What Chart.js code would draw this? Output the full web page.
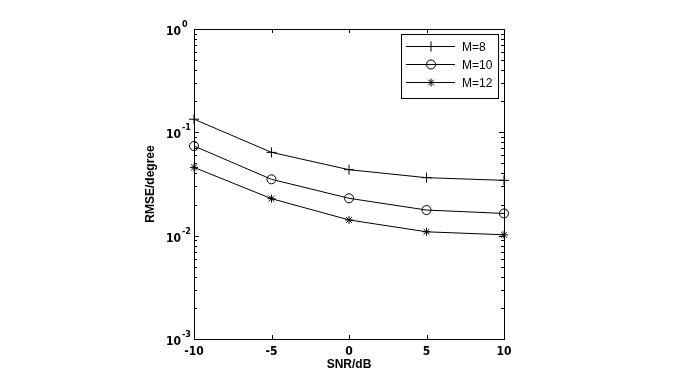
<!DOCTYPE html>
<html>
<head>
<meta charset="utf-8">
<script src="https://cdn.jsdelivr.net/npm/chart.js@4/dist/chart.umd.min.js"></script>
<style>
  html, body { margin: 0; padding: 0; background: #fff; }
  #wrap { width: 676px; height: 382px; }
</style>
</head>
<body>
<div id="wrap"><canvas id="myChart" width="676" height="382"></canvas></div>
<script>
// values
const snr = [-10, -5, 0, 5, 10];
const rmseM8 = [0.134, 0.064, 0.0435, 0.0364, 0.0343];
const rmseM10 = [0.0737, 0.0351, 0.0230, 0.0177, 0.0164];
const rmseM12 = [0.0458, 0.0228, 0.0142, 0.0109, 0.0102];
const seriesNames = ['M=8', 'M=10', 'M=12'];

const xTicks = [-10, -5, 0, 5, 10];
const yTicks = [0.001, 0.01, 0.1, 1];
const yTickExp = ['-3', '-2', '-1', '0'];

const tickFont = "bold 12px 'Liberation Sans Narrow', 'DejaVu Sans Condensed', sans-serif";
const expFont = "bold 9px 'Liberation Sans Narrow', 'DejaVu Sans Condensed', sans-serif";

function points(ys) {
    return snr.map((x, i) => ({ x: x, y: ys[i] }));
}

// box, inward ticks, log tick labels and legend like a matlab figure
const matlabAxes = {
    id: 'matlabAxes',
    afterDraw(chart) {
        const ctx = chart.ctx;
        const area = chart.chartArea;
        const xs = chart.scales.x;
        const ys = chart.scales.y;
        ctx.save();
        ctx.strokeStyle = '#000';
        ctx.lineWidth = 1;
        ctx.strokeRect(Math.round(area.left) + 0.5, Math.round(area.top) + 0.5,
            Math.round(area.right - area.left), Math.round(area.bottom - area.top));

        ctx.beginPath();
        xTicks.forEach(v => {
            const px = Math.round(xs.getPixelForValue(v)) + 0.5;
            ctx.moveTo(px, area.bottom); ctx.lineTo(px, area.bottom - 4);
            ctx.moveTo(px, area.top); ctx.lineTo(px, area.top + 4);
        });
        yTicks.forEach((v, i) => {
            for (let k = 1; k <= 9; k++) {
                if (i === yTicks.length - 1 && k > 1) break;
                const py = Math.round(ys.getPixelForValue(v * k)) + 0.5;
                const len = k === 1 ? 5 : 3;
                ctx.moveTo(area.left, py); ctx.lineTo(area.left + len, py);
                ctx.moveTo(area.right, py); ctx.lineTo(area.right - len, py);
            }
        });
        ctx.stroke();

        ctx.fillStyle = '#000';
        yTicks.forEach((v, i) => {
            const py = ys.getPixelForValue(v);
            ctx.font = tickFont;
            ctx.textAlign = 'right';
            ctx.textBaseline = 'alphabetic';
            ctx.fillText('10', area.left - 13, py + 6);
            ctx.font = expFont;
            ctx.textAlign = 'left';
            ctx.fillText(yTickExp[i], area.left - 12, py - 2);
        });

        // legend
        const bx = 401, by = 34, bw = 97, bh = 64;
        ctx.fillStyle = '#fff';
        ctx.fillRect(bx, by, bw, bh);
        ctx.strokeRect(bx + 0.5, by + 0.5, bw, bh);
        ctx.font = "12px 'Liberation Sans', Arial, sans-serif";
        ctx.textAlign = 'left';
        ctx.textBaseline = 'middle';
        chart.data.datasets.forEach((ds, i) => {
            const ry = Math.round(by + 12 + i * 18.2) + 0.5;
            ctx.beginPath();
            ctx.moveTo(bx + 5, ry); ctx.lineTo(bx + 54, ry);
            ctx.stroke();
            ctx.fillStyle = 'rgba(0,0,0,0)';
            Chart.helpers.drawPoint(ctx, {
                pointStyle: ds.pointStyle, radius: ds.pointRadius, borderWidth: 1
            }, bx + 30, ry);
            ctx.fillStyle = '#000';
            ctx.fillText(ds.label, bx + 61, ry + 1);
        });
        ctx.restore();
    }
};

const common = {
    borderColor: '#000',
    borderWidth: 1,
    pointBorderColor: '#000',
    pointBackgroundColor: 'rgba(0,0,0,0)',
    pointBorderWidth: 1,
    tension: 0,
    clip: false
};

const data = {
    datasets: [
        Object.assign({ label: seriesNames[0], data: points(rmseM8), pointStyle: 'cross', pointRadius: 5 }, common),
        Object.assign({ label: seriesNames[1], data: points(rmseM10), pointStyle: 'circle', pointRadius: 4.5 }, common),
        Object.assign({ label: seriesNames[2], data: points(rmseM12), pointStyle: 'star', pointRadius: 4 }, common)
    ]
};

const config = {
    type: 'line',
    data,
    options: {
        responsive: false,
        animation: false,
        devicePixelRatio: 1,
        layout: { padding: { left: 140, right: 172, top: 29, bottom: 0 } },
        plugins: { legend: { display: false }, tooltip: { enabled: false } },
        scales: {
            x: {
                type: 'linear',
                min: -10,
                max: 10,
                afterBuildTicks: s => { s.ticks = xTicks.map(v => ({ value: v })); },
                afterFit: s => { s.height = 43; },
                grid: { display: false, drawTicks: false },
                border: { display: false },
                ticks: { color: '#000', padding: 6, maxRotation: 0,
                    font: { family: "'Liberation Sans Narrow', 'DejaVu Sans Condensed', sans-serif", size: 12, weight: 'bold' } },
                title: { display: true, text: 'SNR/dB', color: '#000', padding: { top: 0, bottom: 10 },
                    font: { family: "'Liberation Sans', Arial, sans-serif", size: 12, weight: 'bold' } }
            },
            y: {
                type: 'logarithmic',
                min: 0.001,
                max: 1,
                afterFit: s => { s.width = 54; },
                grid: { display: false, drawTicks: false },
                border: { display: false },
                ticks: { display: false },
                title: { display: true, text: 'RMSE/degree', color: '#000', padding: { top: 3, bottom: 0 },
                    font: { family: "'Liberation Sans', Arial, sans-serif", size: 12, weight: 'bold' } }
            }
        }
    },
    plugins: [matlabAxes]
};

let myChart = new Chart(document.getElementById('myChart'), config);
</script>
</body>
</html>
